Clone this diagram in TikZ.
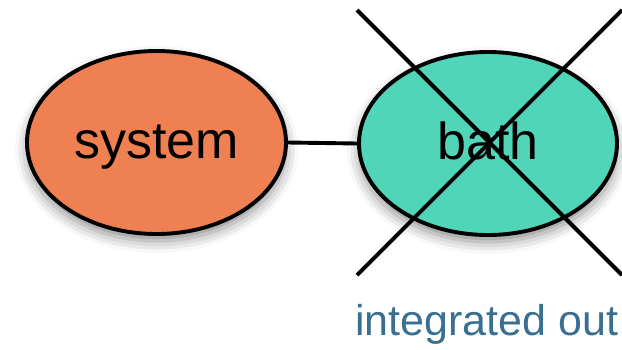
\documentclass[tikz,border=0pt]{standalone}
\usepackage{fontspec}
\setmainfont{Liberation Sans}
\usetikzlibrary{shapes.geometric,shadows.blur}
\definecolor{sysorange}{RGB}{239,128,81}
\definecolor{bathteal}{RGB}{80,213,185}
\definecolor{notecol}{RGB}{58,111,145}
\tikzset{
  blob/.style={ellipse, draw=black, line width=3.9pt, inner sep=0pt,
    font=\fontsize{52}{52}\selectfont, text height=31pt, text depth=0pt,
    blur shadow={shadow xshift=0pt, shadow yshift=-7pt,
      shadow blur radius=12pt, shadow opacity=45}},
  link/.style={line width=3.9pt},
  cross/.style={line width=3.9pt, line cap=butt},
}
\begin{document}
\begin{tikzpicture}[x=1pt, y=-1pt]
  \useasboundingbox (0,0) rectangle (622,349);
  % the two subsystems
  \node[blob, fill=sysorange, minimum width=259pt, minimum height=183pt]
    (system) at (156.5,142.5) {system};
  \node[blob, fill=bathteal, minimum width=258pt, minimum height=183pt]
    (bath) at (488,143.5) {bath};
  % coupling between them
  \draw[link] (system.east) -- (bath.west);
  % the bath is crossed out
  \coordinate (xtl) at (357,10);
  \coordinate (xbr) at (622,275);
  \coordinate (xbl) at (357,275);
  \coordinate (xtr) at (622,10);
  \draw[cross] (xtl) -- (xbr);
  \draw[cross] (xbl) -- (xtr);
  % caption
  \node[anchor=base west, inner sep=0pt, text=notecol,
    font=\fontsize{43}{43}\selectfont] (note) at (355,335) {integrated out};
\end{tikzpicture}
\end{document}
